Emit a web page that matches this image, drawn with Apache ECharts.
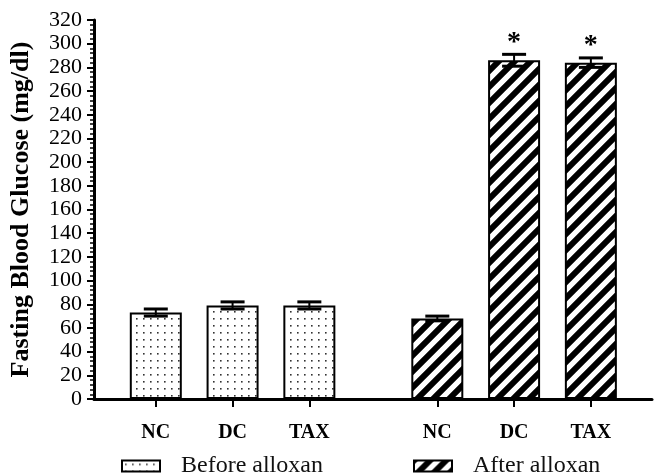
<!DOCTYPE html>
<html>
<head>
<meta charset="utf-8">
<script src="https://cdn.jsdelivr.net/npm/echarts@6/dist/echarts.min.js"></script>
<style>
  html, body { margin: 0; padding: 0; background: #fff; }
  #chart { width: 656px; height: 475px; }
</style>
</head>
<body>
<div id="chart"></div>
<script>
// groups share the same category names, placed along one value x-axis
const categories = ['NC', 'DC', 'TAX', 'NC', 'DC', 'TAX'];
const positions = [0, 1, 2, 11 / 3, 14 / 3, 17 / 3];
const beforeValues = [73, 79, 79];
const afterValues = [68, 286, 284];
const errors = [3, 3, 3, 2, 5, 4];
const significant = [false, false, false, false, true, true];
const yTicks = [0, 320, 20];

const font = 'Liberation Serif';

// fill patterns
function dotPattern() {
    const c = document.createElement('canvas');
    c.width = 7; c.height = 7;
    const ctx = c.getContext('2d');
    ctx.fillStyle = '#fff';
    ctx.fillRect(0, 0, 7, 7);
    ctx.fillStyle = '#333';
    ctx.fillRect(3, 3, 1.6, 1.6);
    return c;
}
function hatchPattern() {
    const s = 16;
    const c = document.createElement('canvas');
    c.width = s; c.height = s;
    const ctx = c.getContext('2d');
    ctx.fillStyle = '#fff';
    ctx.fillRect(0, 0, s, s);
    ctx.strokeStyle = '#000';
    ctx.lineWidth = 6;
    ctx.beginPath();
    ctx.moveTo(-s, 2 * s); ctx.lineTo(2 * s, -s);
    ctx.moveTo(-s, s); ctx.lineTo(s, -s);
    ctx.moveTo(0, 2 * s); ctx.lineTo(2 * s, 0);
    ctx.stroke();
    return c;
}

const chart = echarts.init(document.getElementById('chart'));

const beforeData = beforeValues.map((v, i) => [positions[i], v]);
const afterData = afterValues.map((v, i) => [positions[i + 3], v]);
const allValues = beforeValues.concat(afterValues);
const errData = allValues.map((v, i) => [positions[i], v, errors[i], significant[i] ? 1 : 0]);

function catName(v) {
    for (let i = 0; i < positions.length; i++) {
        if (Math.abs(positions[i] - v) < 0.01) return categories[i];
    }
    return '';
}

const legendText = { fontFamily: font, fontSize: 24, color: '#111', padding: [0, 0, 0, 16] };

const options = {
    animation: false,
    grid: { left: 88, right: 4, top: 20, bottom: 76 },
    legend: [
        {
            data: ['Before alloxan'], left: 116, top: 449, icon: 'rect',
            itemWidth: 38, itemHeight: 11, itemGap: 0,
            textStyle: legendText
        },
        {
            data: ['After alloxan'], left: 408, top: 449, icon: 'rect',
            itemWidth: 38, itemHeight: 11, itemGap: 0,
            textStyle: legendText
        }
    ],
    xAxis: {
        type: 'value',
        min: -0.805,
        max: 6.463,
        splitLine: { show: false },
        axisLine: { show: true, onZero: false, lineStyle: { color: '#000', width: 3 } },
        axisTick: { show: true, customValues: positions, length: 8, lineStyle: { color: '#000', width: 2 } },
        axisLabel: {
            customValues: positions,
            formatter: catName,
            margin: 24,
            fontFamily: font, fontSize: 20, fontWeight: 'bold', color: '#000'
        }
    },
    yAxis: {
        type: 'value',
        min: yTicks[0],
        max: yTicks[1],
        interval: yTicks[2],
        name: 'Fasting Blood Glucose (mg/dl)',
        nameLocation: 'middle',
        nameGap: 60,
        nameTextStyle: { fontFamily: font, fontSize: 26, fontWeight: 'bold', color: '#000' },
        splitLine: { show: false },
        axisLine: { show: true, onZero: false, lineStyle: { color: '#000', width: 3 } },
        axisTick: { show: true, length: 7, lineStyle: { color: '#000', width: 2 } },
        minorTick: { show: true, splitNumber: 5, length: 4, lineStyle: { color: '#000', width: 1.5 } },
        axisLabel: { margin: 12, fontFamily: font, fontSize: 22, color: '#000' }
    },
    series: [
        {
            name: 'Before alloxan',
            type: 'bar',
            barWidth: 52,
            data: beforeData,
            itemStyle: { color: { image: dotPattern(), repeat: 'repeat' }, borderColor: '#000', borderWidth: 2 }
        },
        {
            name: 'After alloxan',
            type: 'bar',
            barWidth: 52,
            barGap: '-100%',
            data: afterData,
            itemStyle: { color: { image: hatchPattern(), repeat: 'repeat' }, borderColor: '#000', borderWidth: 2 }
        },
        {
            name: 'error',
            type: 'custom',
            z: 5,
            data: errData,
            renderItem: function (params, api) {
                const x = api.value(0), m = api.value(1), e = api.value(2);
                const top = api.coord([x, m + e]);
                const bot = api.coord([x, m - e]);
                const half = 12;
                const children = [
                    { type: 'line', shape: { x1: top[0], y1: top[1], x2: top[0], y2: bot[1] }, style: { stroke: '#000', lineWidth: 2 } },
                    { type: 'line', shape: { x1: top[0] - half, y1: top[1], x2: top[0] + half, y2: top[1] }, style: { stroke: '#000', lineWidth: 3 } },
                    { type: 'line', shape: { x1: bot[0] - half, y1: bot[1], x2: bot[0] + half, y2: bot[1] }, style: { stroke: '#000', lineWidth: 3 } }
                ];
                if (api.value(3)) {
                    children.push({
                        type: 'text',
                        style: {
                            x: top[0], y: top[1] + 2, text: '*',
                            font: 'bold 28px ' + font, fill: '#000',
                            align: 'center', verticalAlign: 'bottom'
                        }
                    });
                }
                return { type: 'group', children: children };
            }
        }
    ]
};
chart.setOption(options);
</script>
</body>
</html>
